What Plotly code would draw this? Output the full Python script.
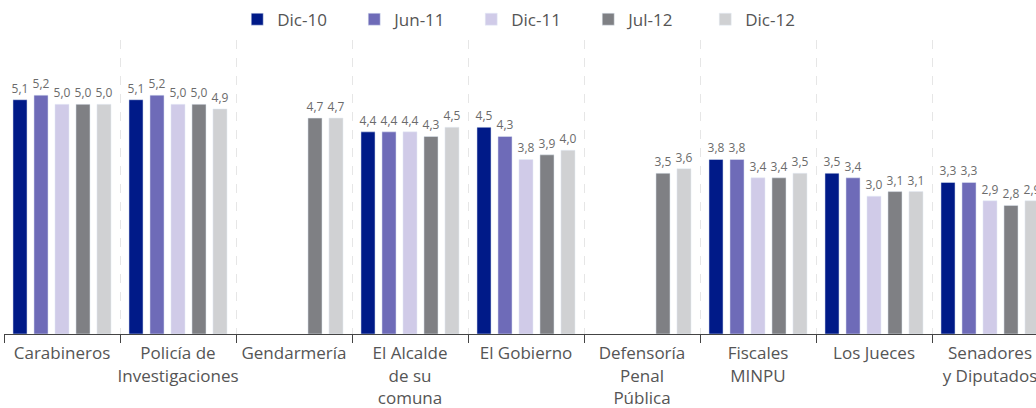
import plotly.graph_objects as go

categories = ["Carabineros", "Policía de<br>Investigaciones", "Gendarmería",
              "El Alcalde<br>de su<br>comuna", "El Gobierno", "Defensoría<br>Penal<br>Pública",
              "Fiscales<br>MINPU", "Los Jueces", "Senadores<br>y Diputados"]
series_names = ["Dic-10", "Jun-11", "Dic-11", "Jul-12", "Dic-12"]
dic10 = [5.1, 5.1, None, 4.4, 4.5, None, 3.8, 3.5, 3.3]
jun11 = [5.2, 5.2, None, 4.4, 4.3, None, 3.8, 3.4, 3.3]
dic11 = [5.0, 5.0, None, 4.4, 3.8, None, 3.4, 3.0, 2.9]
jul12 = [5.0, 5.0, 4.7, 4.3, 3.9, 3.5, 3.4, 3.1, 2.8]
dic12 = [5.0, 4.9, 4.7, 4.5, 4.0, 3.6, 3.5, 3.1, 2.9]
series_values = [dic10, jun11, dic11, jul12, dic12]
colors = ["#001a88", "#6e6bb8", "#d0cbe8", "#7f8084", "#d0d1d3"]

fig = go.Figure()
for name, vals, col in zip(series_names, series_values, colors):
    fig.add_trace(go.Bar(
        name=name, x=categories, y=vals, marker_color=col,
        texttemplate="%{y:.1f}", textposition="outside",
        textfont=dict(size=12, color="#6b6b6b"), cliponaxis=False,
    ))

fig.update_layout(
    width=1036, height=408,
    margin=dict(l=4, r=0, t=40, b=74, autoexpand=False),
    paper_bgcolor="white", plot_bgcolor="white",
    barmode="group", bargap=0.095, bargroupgap=0.33,
    uniformtext=dict(minsize=12, mode="show"),
    separators=",.",
    font=dict(family="Open Sans, Noto Sans, sans-serif", color="#555555"),
    legend=dict(orientation="h", x=0.226, xanchor="left", y=1.008, yanchor="bottom",
                font=dict(size=17, color="#555555"),
                entrywidth=72, entrywidthmode="pixels", itemclick=False),
    xaxis=dict(range=[-0.5, -0.5 + 1032 / 116], autorange=False, tickson="boundaries",
               tickangle=0, automargin=False, ticklabelstandoff=4,
               ticks="outside", ticklen=8, tickcolor="#444444", tickwidth=1,
               showline=True, linecolor="#444444", linewidth=1,
               showgrid=True, gridcolor="#e6e6e6", griddash="dash", gridwidth=1,
               tickfont=dict(size=17, color="#555555")),
    yaxis=dict(range=[0, 6.4], visible=False, showgrid=False, zeroline=False),
)

fig.write_html("out.html", config={"displayModeBar": False},
               post_script="document.body.style.margin='0px';document.body.style.overflow='hidden';")
